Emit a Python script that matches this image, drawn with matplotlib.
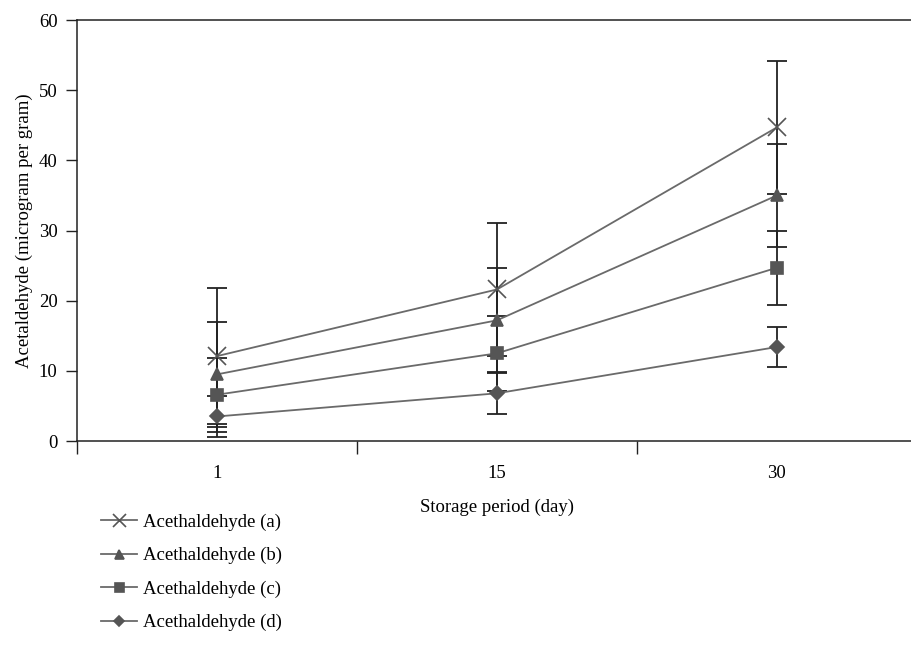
import matplotlib.pyplot as plt
import numpy as np

# Data
days = ['1', '15', '30']
labels = ['Acethaldehyde (a)', 'Acethaldehyde (b)', 'Acethaldehyde (c)', 'Acethaldehyde (d)']
vals_a = [12.1, 21.6, 44.7]
vals_b = [9.5, 17.2, 35.0]
vals_c = [6.6, 12.5, 24.7]
vals_d = [3.5, 6.8, 13.4]
err_a = [9.7, 9.5, 9.5]
err_b = [7.5, 7.5, 7.4]
err_c = [5.3, 5.3, 5.3]
err_d = [2.9, 3.0, 2.9]

plt.rcParams['font.family'] = ['Liberation Serif', 'DejaVu Serif']
plt.rcParams['font.size'] = 13.5

fig = plt.figure(figsize=(9.11, 6.56), dpi=100)
ax = fig.add_axes([0.0845, 0.3277, 0.922, 0.6418])

x = np.arange(len(days))
series = [
    (vals_a, err_a, 'x', 13),
    (vals_b, err_b, '^', 9),
    (vals_c, err_c, 's', 9),
    (vals_d, err_d, 'D', 7),
]
line_col = '#6a6a6a'
mark_col = '#555555'

# error bars first (dark), then lines with markers
for vals, errs, m, ms in series:
    ax.errorbar(x, vals, yerr=errs, fmt='none', ecolor='#222222',
                elinewidth=1.3, capsize=7, capthick=1.3, zorder=2)

handles = []
for (vals, errs, m, ms), lab in zip(series, labels):
    h, = ax.plot(x, vals, color=line_col, lw=1.3, marker=m, markersize=ms,
                 markerfacecolor=mark_col, markeredgecolor=mark_col,
                 markeredgewidth=1.2, label=lab, zorder=3)
    handles.append(h)

ax.set_xlim(-0.5, 2.5)
ax.set_ylim(0, 60)
ax.set_yticks(range(0, 61, 10))
ax.set_xticks([-0.5, 0.5, 1.5, 2.5])
ax.set_xticklabels([])
ax.set_xticks(x, minor=True)
ax.set_xticklabels(days, minor=True)
ax.tick_params(axis='x', which='minor', length=0, pad=17)
ax.tick_params(axis='x', which='major', length=9, width=1, color='#222222')
ax.tick_params(axis='y', length=8, width=1, color='#222222', pad=6)

for s in ['left', 'bottom', 'top']:
    ax.spines[s].set_color('#222222')
    ax.spines[s].set_linewidth(1.1)
ax.spines['right'].set_visible(False)

ax.set_xlabel('Storage period (day)', labelpad=12)
ax.set_ylabel('Acetaldehyde (microgram per gram)', labelpad=4)

fig.legend(handles=handles, labels=labels, loc='upper left',
           bbox_to_anchor=(0.111, 0.217), frameon=False, borderaxespad=0,
           borderpad=0, handlelength=1.9, handletextpad=0.35,
           labelspacing=0.86, markerscale=0.72)

plt.savefig('out.png', dpi=100)
